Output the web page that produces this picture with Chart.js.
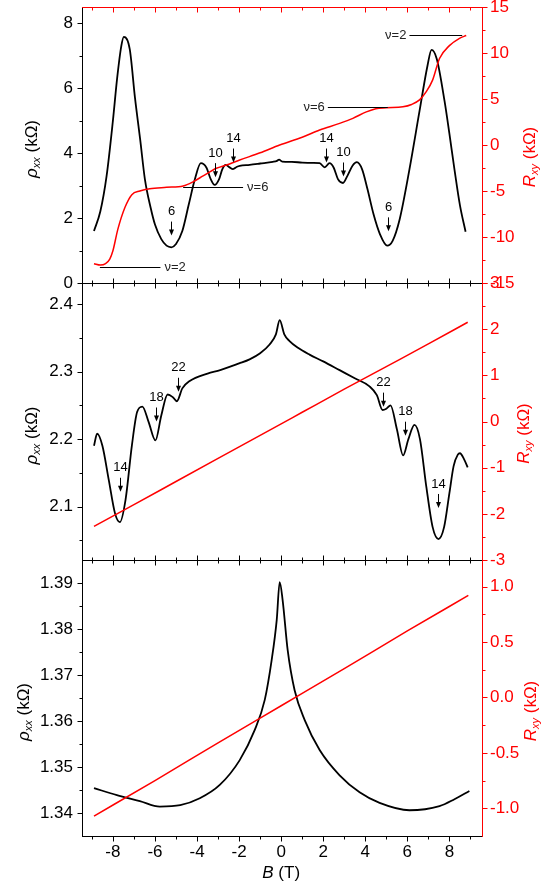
<!DOCTYPE html>
<html>
<head>
<meta charset="utf-8">
<script src="https://cdn.jsdelivr.net/npm/chart.js@4.4.0/dist/chart.umd.min.js"></script>
<style>
  html, body { margin: 0; padding: 0; background: #fff; }
  #wrap { position: relative; width: 544px; height: 887px; overflow: hidden; }
  .pane { position: absolute; left: 0; width: 544px; }
</style>
</head>
<body>
<div id="wrap">
  <div class="pane" style="top:-13px;height:316px"><canvas id="c1"></canvas></div>
  <div class="pane" style="top:263px;height:317px"><canvas id="c2"></canvas></div>
  <div class="pane" style="top:540px;height:347px"><canvas id="c3"></canvas></div>
</div>
<script>
/* ---- shared B axis ---- */
const X_MIN = -9.47, X_MAX = 9.55;
const xMajor = [-8, -6, -4, -2, 0, 2, 4, 6, 8];
const xMinor = [-9, -7, -5, -3, -1, 1, 3, 5, 7, 9];

/* ---- panel 1 : rho_xx and R_xy, wide range ---- */
const rhoB1 = [-8.9, -8.6, -8.3, -8.0, -7.8, -7.6, -7.48, -7.2, -6.95, -6.7, -6.48, -6.2, -6.0, -5.7, -5.45, -5.22, -5.0,
  -4.7, -4.4, -4.1, -3.82, -3.55, -3.35, -3.16, -2.95, -2.8, -2.64, -2.45, -2.29, -2.1, -1.97, -1.5, -1.0, -0.4, -0.2,
  -0.1, 0.05, 0.5, 1.0, 1.5, 1.83, 2.07, 2.3, 2.5, 2.7, 2.94, 3.15, 3.4, 3.6, 3.85, 4.1, 4.4, 4.7, 5.04, 5.3, 5.63,
  6.1, 6.58, 6.96, 7.15, 7.4, 7.77, 8.0, 8.24, 8.5, 8.77];
const rhoV1 = [1.6, 2.2, 3.3, 5.0, 6.3, 7.3, 7.58, 7.2, 5.7, 4.4, 3.2, 2.3, 1.8, 1.35, 1.15, 1.1, 1.2,
  1.6, 2.4, 3.2, 3.69, 3.55, 3.2, 3.02, 3.2, 3.5, 3.64, 3.56, 3.51, 3.58, 3.61, 3.64, 3.68, 3.73, 3.76,
  3.8, 3.74, 3.73, 3.71, 3.7, 3.69, 3.56, 3.69, 3.55, 3.2, 3.08, 3.3, 3.62, 3.72, 3.5, 2.9, 2.1, 1.5, 1.15, 1.3, 1.95,
  3.5, 5.3, 6.7, 7.18, 6.9, 5.6, 4.6, 3.5, 2.4, 1.58];
const rxyB1 = [-8.9, -8.6, -8.35, -8.15, -8.0, -7.77, -7.43, -7.1, -6.72, -6.25, -5.45, -4.66, -4.19, -3.71, -3.08, -2.6,
  -1.97, -1.0, -0.07, 1.0, 1.83, 2.78, 3.41, 4.05, 4.5, 5.0, 5.79, 6.2, 6.58, 6.9, 7.2, 7.53, 8.0, 8.48, 8.8];
const rxyV1 = [-12.9, -13.05, -12.9, -12.4, -11.5, -9.2, -6.8, -5.4, -5.0, -4.75, -4.6, -4.45, -4.0, -3.36, -2.53, -2.17,
  -1.63, -0.85, 0, 0.85, 1.63, 2.35, 2.9, 3.6, 3.95, 4.05, 4.15, 4.4, 4.9, 5.8, 7.05, 9.4, 10.8, 11.6, 11.9];

/* ---- panel 2 ---- */
const rhoB2 = [-8.9, -8.75, -8.5, -8.2, -7.9, -7.67, -7.4, -7.1, -6.85, -6.6, -6.3, -5.98, -5.7, -5.4, -5.15, -4.96, -4.7,
  -4.35, -3.5, -2.9, -2.0, -1.5, -1.0, -0.55, -0.25, -0.07, 0.15, 0.4, 0.8, 1.35, 2.0, 2.78, 3.5, 4.2, 4.55, 4.82,
  5.0, 5.2, 5.5, 5.8, 6.05, 6.34, 6.6, 6.9, 7.2, 7.48, 7.75, 8.0, 8.2, 8.4, 8.5, 8.7, 8.87];
const rhoV2 = [2.19, 2.208, 2.19, 2.14, 2.09, 2.077, 2.11, 2.19, 2.24, 2.248, 2.225, 2.198, 2.235, 2.266, 2.262, 2.256, 2.275,
  2.286, 2.297, 2.302, 2.312, 2.318, 2.327, 2.34, 2.355, 2.376, 2.355, 2.345, 2.335, 2.325, 2.315, 2.302, 2.29, 2.278, 2.265, 2.243,
  2.245, 2.25, 2.215, 2.176, 2.2, 2.221, 2.2, 2.13, 2.07, 2.052, 2.07, 2.12, 2.16, 2.177, 2.179, 2.17, 2.158];
const rxyB2 = [-8.9, -7.0, -5.0, -3.0, -1.0, 0, 1.0, 3.0, 5.0, 7.0, 8.87];
const rxyV2 = [-2.27, -1.80, -1.30, -0.80, -0.30, -0.05, 0.20, 0.70, 1.19, 1.68, 2.15];

/* ---- panel 3 ---- */
const rhoB3 = [-8.9, -7.81, -6.72, -5.77, -4.8, -3.87, -2.92, -1.97, -1.26, -0.78, -0.45, -0.21, -0.07,
  0.07, 0.31, 0.64, 1.12, 1.83, 2.78, 3.73, 4.68, 6.1, 7.53, 8.24, 8.95];
const rhoV3 = [1.3455, 1.3440, 1.3427, 1.3415, 1.3418, 1.3433, 1.3462, 1.3516, 1.3581, 1.3647, 1.3734, 1.3821, 1.3903,
  1.3864, 1.3755, 1.3668, 1.3603, 1.3538, 1.3483, 1.3446, 1.3423, 1.3407, 1.3416, 1.3431, 1.3449];
const rxyB3 = [-8.9, -6.0, -3.0, 0, 3.0, 6.0, 8.9];
const rxyV3 = [-1.07, -0.75, -0.41, -0.075, 0.26, 0.60, 0.92];

/* ---- annotations (data coordinates) ---- */
const arrows1 = [
  { t: '6', x: -5.22, y: 1.46 }, { t: '10', x: -3.16, y: 3.26 }, { t: '14', x: -2.29, y: 3.71 },
  { t: '14', x: 2.15, y: 3.71 }, { t: '10', x: 2.94, y: 3.28 }, { t: '6', x: 5.07, y: 1.59 }
];
const arrows2 = [
  { t: '14', x: -7.64, y: 2.122 }, { t: '18', x: -5.96, y: 2.226 }, { t: '22', x: -4.92, y: 2.27 },
  { t: '22', x: 4.82, y: 2.248 }, { t: '18', x: 5.87, y: 2.205 }, { t: '14', x: 7.48, y: 2.098 }
];
const nuLines1 = [
  { t: 'ν=2', x1: -8.62, x2: -5.74, y: -13.3, side: 'right' },
  { t: 'ν=6', x1: -4.66, x2: -1.81, y: -4.6, side: 'right' },
  { t: 'ν=6', x1: 2.22, x2: 5.07, y: 4.1, side: 'left' },
  { t: 'ν=2', x1: 6.1, x2: 8.61, y: 11.97, side: 'left' }
];

const FONT = "'Liberation Sans', Arial, Helvetica, sans-serif";

function pts(xs, ys) {
  return xs.map((x, i) => ({ x: x, y: ys[i] }));
}

// frame, tick marks (major + minor), axis titles and annotations
const panelPlugin = {
  id: 'panel',
  afterDraw(chart, args, o) {
    const ctx = chart.ctx, a = chart.chartArea;
    const sx = chart.scales.x, yl = chart.scales.yl, yr = chart.scales.yr;
    const px = v => Math.round(v) + 0.5;
    const seg = (x1, y1, x2, y2, c) => {
      ctx.strokeStyle = c;
      ctx.beginPath(); ctx.moveTo(x1, y1); ctx.lineTo(x2, y2); ctx.stroke();
    };
    const top = px(a.top), bot = px(a.bottom), lft = px(a.left), rgt = px(a.right);
    ctx.save();
    ctx.lineWidth = 1;

    // B ticks, top and bottom of the panel
    [[xMajor, 5], [xMinor, 3]].forEach(([list, len]) => list.forEach(v => {
      const x = px(sx.getPixelForValue(v));
      seg(x, top, x, top + o.topDir * len, o.topColor);
      seg(x, bot, x, bot + len, 'black');
    }));
    // left axis ticks
    [[o.lMajor, 5], [o.lMinor, 3]].forEach(([list, len]) => list.forEach(v => {
      const y = px(yl.getPixelForValue(v));
      seg(lft - len, y, lft, y, 'black');
    }));
    // right axis ticks
    [[o.rMajor, 5], [o.rMinor, 3]].forEach(([list, len]) => list.forEach(v => {
      const y = px(yr.getPixelForValue(v));
      seg(rgt, y, rgt + len, y, 'red');
    }));
    // frame
    seg(a.left, bot, a.right + 1, bot, 'black');
    seg(lft, a.top, lft, a.bottom + 1, 'black');
    seg(a.left, top, a.right + 1, top, o.topColor);
    seg(rgt, a.top, rgt, a.bottom + 1, 'red');

    // axis titles
    const mid = (a.top + a.bottom) / 2;
    richText(ctx, [
      { t: 'ρ', f: 'italic 17px ' + FONT },
      { t: 'xx', f: 'italic 11px ' + FONT, dy: 5 },
      { t: ' (kΩ)', f: '17px ' + FONT }
    ], o.lTitleX, mid + o.lTitleDy, -Math.PI / 2, 'black');
    richText(ctx, [
      { t: 'R', f: 'italic 17px ' + FONT },
      { t: 'xy', f: 'italic 11px ' + FONT, dy: 5 },
      { t: ' (kΩ)', f: '17px ' + FONT }
    ], o.rTitleX, mid + o.rTitleDy, -Math.PI / 2, 'red');
    if (o.bTitle) {
      richText(ctx, [
        { t: 'B', f: 'italic 17px ' + FONT },
        { t: ' (T)', f: '17px ' + FONT }
      ], sx.getPixelForValue(0), a.bottom + 37, 0, 'black');
    }

    // arrows with filling factors
    ctx.fillStyle = 'black';
    ctx.font = '13px ' + FONT;
    ctx.textAlign = 'center';
    ctx.textBaseline = 'middle';
    (o.arrows || []).forEach(p => {
      const x = px(sx.getPixelForValue(p.x));
      const yt = yl.getPixelForValue(p.y);
      seg(x, yt - 14, x, yt - 5, 'black');
      ctx.beginPath();
      ctx.moveTo(x - 2.5, yt - 6); ctx.lineTo(x + 2.5, yt - 6); ctx.lineTo(x, yt);
      ctx.closePath(); ctx.fill();
      ctx.fillText(p.t, x, yt - 24);
    });
    // nu plateau markers
    (o.nu || []).forEach(p => {
      const x1 = sx.getPixelForValue(p.x1), x2 = sx.getPixelForValue(p.x2);
      const y = px(yr.getPixelForValue(p.y));
      seg(x1, y, x2, y, 'black');
      ctx.fillStyle = '#222';
      if (p.side === 'right') {
        ctx.textAlign = 'left'; ctx.fillText(p.t, x2 + 4, y);
      } else {
        ctx.textAlign = 'right'; ctx.fillText(p.t, x1 - 3, y);
      }
    });
    ctx.restore();
  }
};

function richText(ctx, parts, cx, cy, rot, color) {
  ctx.save();
  ctx.translate(cx, cy);
  ctx.rotate(rot);
  let total = 0;
  parts.forEach(p => { ctx.font = p.f; p.w = ctx.measureText(p.t).width; total += p.w; });
  let x = -total / 2;
  ctx.fillStyle = color;
  ctx.textAlign = 'left';
  ctx.textBaseline = 'middle';
  parts.forEach(p => { ctx.font = p.f; ctx.fillText(p.t, x, p.dy || 0); x += p.w; });
  ctx.restore();
}

function makePanel(id, cfg) {
  const tickFont = { family: FONT, size: 17 };
  return new Chart(document.getElementById(id), {
    type: 'line',
    data: {
      datasets: [{
        data: pts(cfg.rx, cfg.ry),
        yAxisID: 'yr',
        borderColor: 'red',
        borderWidth: 1.5,
        pointRadius: 0,
        cubicInterpolationMode: 'monotone'
      }, {
        data: pts(cfg.bx, cfg.by),
        yAxisID: 'yl',
        borderColor: 'black',
        borderWidth: 1.8,
        pointRadius: 0,
        cubicInterpolationMode: 'monotone'
      }]
    },
    options: {
      responsive: true,
      maintainAspectRatio: false,
      animation: false,
      devicePixelRatio: 1,
      layout: { padding: { top: 20, bottom: cfg.showX ? 0 : 20, left: 0, right: 0 } },
      plugins: {
        legend: { display: false },
        tooltip: { enabled: false },
        panel: cfg.panel
      },
      scales: {
        x: {
          type: 'linear', min: X_MIN, max: X_MAX,
          display: cfg.showX,
          grid: { display: false, drawTicks: false },
          border: { display: false },
          ticks: { font: tickFont, color: 'black', padding: 6, autoSkip: false, maxRotation: 0 },
          afterBuildTicks: s => { s.ticks = xMajor.map(v => ({ value: v })); },
          afterFit: s => { if (cfg.showX) s.height = 51; }
        },
        yl: {
          position: 'left', min: cfg.lMin, max: cfg.lMax,
          grid: { display: false, drawTicks: false },
          border: { display: false },
          ticks: { font: tickFont, color: 'black', padding: 9, autoSkip: false,
            callback: v => v.toFixed(cfg.lDec) },
          afterBuildTicks: s => { s.ticks = cfg.panel.lMajor.map(v => ({ value: v })); },
          afterFit: s => { s.width = 82; }
        },
        yr: {
          position: 'right', min: cfg.rMin, max: cfg.rMax,
          grid: { display: false, drawTicks: false },
          border: { display: false },
          ticks: { font: tickFont, color: 'red', padding: 8, autoSkip: false,
            callback: v => v.toFixed(cfg.rDec) },
          afterBuildTicks: s => { s.ticks = cfg.panel.rMajor.map(v => ({ value: v })); },
          afterFit: s => { s.width = 62; }
        }
      }
    },
    plugins: [panelPlugin]
  });
}

makePanel('c1', {
  bx: rhoB1, by: rhoV1, rx: rxyB1, ry: rxyV1,
  lMin: 0, lMax: 8.5, rMin: -15, rMax: 15, lDec: 0, rDec: 0, showX: false,
  panel: {
    topColor: 'red', topDir: 1,
    lMajor: [0, 2, 4, 6, 8], lMinor: [1, 3, 5, 7],
    rMajor: [-15, -10, -5, 0, 5, 10, 15], rMinor: [-12.5, -7.5, -2.5, 2.5, 7.5, 12.5],
    lTitleX: 32, lTitleDy: 4, rTitleX: 530, rTitleDy: 12,
    arrows: arrows1, nu: nuLines1
  }
});

makePanel('c2', {
  bx: rhoB2, by: rhoV2, rx: rxyB2, ry: rxyV2,
  lMin: 2.021, lMax: 2.431, rMin: -3, rMax: 3, lDec: 1, rDec: 0, showX: false,
  panel: {
    topColor: 'black', topDir: -1,
    lMajor: [2.1, 2.2, 2.3, 2.4], lMinor: [2.05, 2.15, 2.25, 2.35],
    rMajor: [-3, -2, -1, 0, 1, 2, 3], rMinor: [-2.5, -1.5, -0.5, 0.5, 1.5, 2.5],
    lTitleX: 32, lTitleDy: 14, rTitleX: 524, rTitleDy: 12,
    arrows: arrows2
  }
});

makePanel('c3', {
  bx: rhoB3, by: rhoV3, rx: rxyB3, ry: rxyV3,
  lMin: 1.3351, lMax: 1.3951, rMin: -1.25, rMax: 1.24, lDec: 2, rDec: 1, showX: true,
  panel: {
    topColor: 'black', topDir: -1,
    lMajor: [1.34, 1.35, 1.36, 1.37, 1.38, 1.39], lMinor: [1.345, 1.355, 1.365, 1.375, 1.385],
    rMajor: [-1, -0.5, 0, 0.5, 1], rMinor: [-0.75, -0.25, 0.25, 0.75],
    lTitleX: 24, lTitleDy: 14, rTitleX: 531, rTitleDy: 13,
    bTitle: true
  }
});
</script>
</body>
</html>
